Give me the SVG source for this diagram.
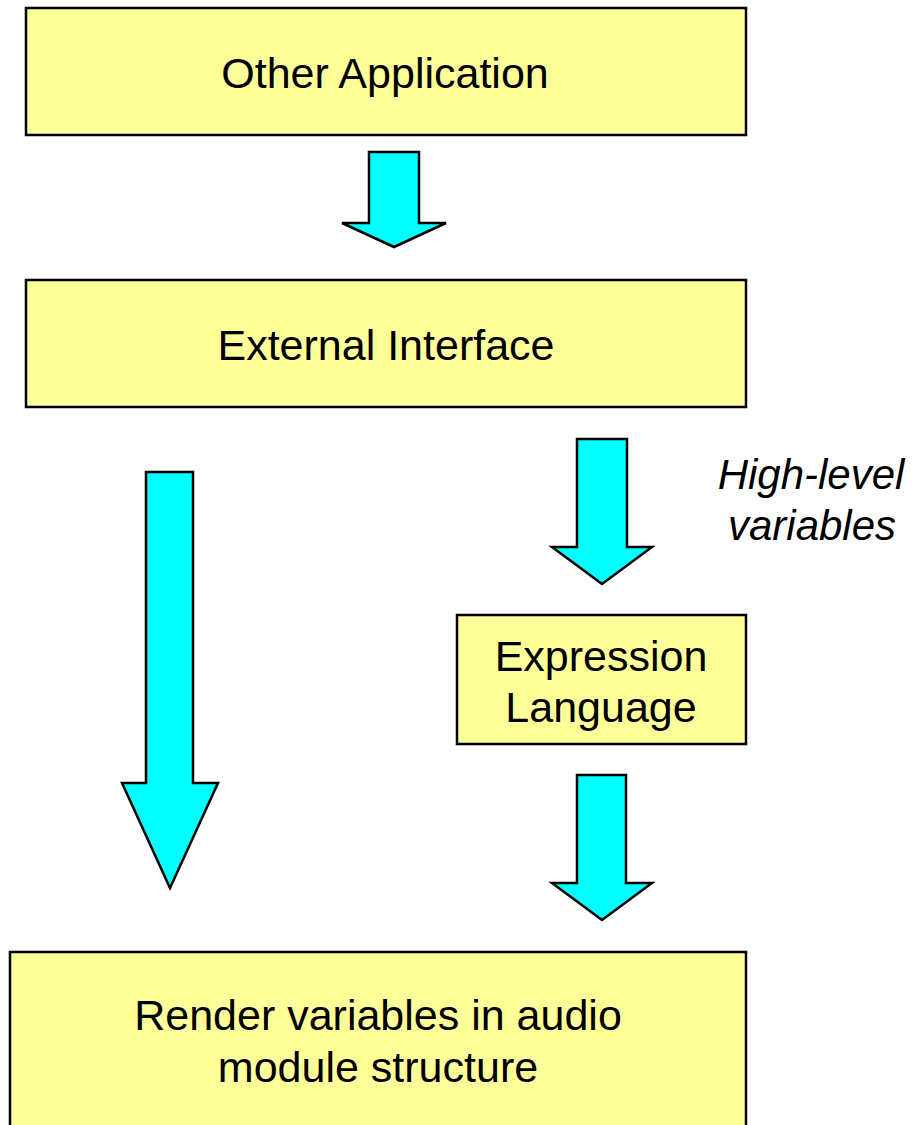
<svg xmlns="http://www.w3.org/2000/svg" width="913" height="1125" viewBox="0 0 913 1125">
<style>
.box{fill:#FFFF99;stroke:#000;stroke-width:2.5}
.arr{fill:#00FFFF;stroke:#000;stroke-width:2.5;stroke-linejoin:miter}
.t{font-family:"Liberation Sans",Arial,sans-serif;font-size:43px;fill:#000;text-anchor:middle}
.i{font-style:italic;font-size:42px}
</style>
<rect width="913" height="1125" fill="#fff"/>
<g id="other-application">
<rect class="box" x="26" y="8" width="720" height="127"/>
<text class="t" x="385" y="88">Other Application</text>
</g>
<g id="external-interface">
<rect class="box" x="26" y="280" width="720" height="127"/>
<text class="t" x="386" y="360">External Interface</text>
</g>
<g id="expression-language">
<rect class="box" x="457" y="615" width="289" height="129"/>
<text class="t" x="601" y="671">Expression</text>
<text class="t" x="601" y="722">Language</text>
</g>
<g id="render-variables">
<rect class="box" x="10" y="952" width="736" height="190"/>
<text class="t" x="378" y="1030">Render variables in audio</text>
<text class="t" x="378" y="1082">module structure</text>
</g>
<g id="label-high-level">
<text class="t i" x="811" y="489">High-level</text>
<text class="t i" x="812" y="540">variables</text>
</g>
<g id="connectors">
<polygon class="arr" points="369,152 419,152 419,223 446,223 394,247 342,223 369,223"/>
<polygon class="arr" points="146,472 193,472 193,783 218,783 170,888 122,783 146,783"/>
<polygon class="arr" points="577,439 627,439 627,547 652,547 602,584 552,547 577,547"/>
<polygon class="arr" points="577,775 626,775 626,883 652,883 602,920 552,883 577,883"/>
</g>
</svg>
